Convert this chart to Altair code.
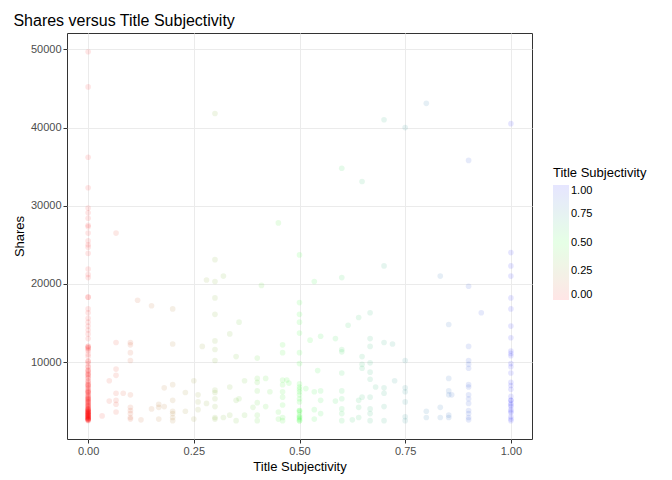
import altair as alt
import pandas as pd

# shares observed at each title subjectivity value
s000 = [49700, 45200, 36200, 32300, 29700, 29100, 28400, 27500, 27300, 26500, 25500,
        25000, 24700, 23900, 21900, 21200, 20800, 18300, 18300, 16800, 16300, 15600,
        15100, 14600, 14100, 13600, 13000, 12000, 11800, 11400, 10700, 10100, 9400,
        8800, 8400, 7900, 7500, 7100, 6600, 6200, 5800, 5300, 4900, 4500, 4000, 3600,
        3200, 2700, 2500, 3000, 3400, 3800, 4200, 4700, 5100, 5500, 6000, 2600, 2800,
        3100, 3300, 3500, 3700, 3900, 4100, 4400, 4600, 5000, 5600, 6400, 6900, 7300,
        8000, 8600, 9000, 9800, 11000, 11600, 2900, 2650, 2550, 2750, 2850, 2950, 3050,
        3150, 3250, 3350, 3450, 3550, 3650, 3750, 3850, 3950, 4300, 4800, 5200, 5400,
        5700, 6100, 6300, 6700, 7000, 7600, 8200, 8900, 2600, 2700, 2800, 3000, 3200,
        3400, 3600, 4000, 4400, 4900, 5300, 6200, 7100, 8400, 9400, 10100, 11800, 12000]
s010 = [12500, 12200, 11200, 10200, 5800, 4200, 3800, 3400, 2900, 2700]
s020 = [16800, 12300, 7100, 5100, 3700, 3400, 2900, 2500]
s030 = [41800, 23100, 20300, 18200, 16100, 12700, 11600, 10200, 6400, 6100, 5300,
        4300, 2900, 2700]
s040 = [10500, 7900, 7400, 6300, 4800, 3200, 2500]
s046 = [12200, 11200, 7700, 7100, 6200, 5500, 4500, 2900, 2500]
s050 = [23700, 17600, 16100, 15100, 13700, 11200, 9800, 7200, 6800, 6500, 6200, 5800,
        5300, 4900, 3800, 3600, 3200, 2900, 2500, 3800, 2500, 2700, 3000]
s060 = [34800, 20800, 11600, 11300, 8600, 6300, 5300, 4000, 3400, 2500]
s067 = [16300, 13000, 12000, 9900, 8700, 7800, 5500, 4000, 3400, 2500]
s070 = [41000, 22300, 12500, 6700, 6000, 4300, 2500]
s075 = [40000, 10200, 6700, 6200, 4900, 3000, 2500]
s090 = [35800, 19700, 12000, 10200, 9700, 9200, 7100, 6800, 5800, 5300, 4700, 3800,
        3400, 2900, 2600]
s100 = [40500, 24000, 22300, 21000, 18200, 16800, 14600, 13100, 11400, 11100, 10800,
        9800, 9400, 8600, 7400, 7000, 6500, 5600, 5100, 5100, 4700, 4300, 3900, 3500,
        3000, 2700, 2500, 4500, 3700]
# scattered single points between the main values
other_x = [0.066, 0.066, 0.066, 0.066, 0.066, 0.066, 0.066, 0.066, 0.05, 0.05, 0.083,
           0.033, 0.117, 0.15, 0.15, 0.125, 0.167, 0.167, 0.167, 0.18, 0.18, 0.23, 0.23,
           0.25, 0.25, 0.26, 0.26, 0.26, 0.27, 0.28, 0.28, 0.32, 0.32, 0.335, 0.335,
           0.335, 0.35, 0.35, 0.35, 0.357, 0.357, 0.37, 0.37, 0.39, 0.41, 0.42, 0.42,
           0.43, 0.45, 0.45, 0.45, 0.47, 0.475, 0.515, 0.525, 0.535, 0.535, 0.535, 0.535,
           0.543, 0.55, 0.55, 0.55, 0.55, 0.585, 0.585, 0.615, 0.625, 0.64, 0.64, 0.64,
           0.64, 0.648, 0.648, 0.648, 0.648, 0.648, 0.68, 0.72, 0.725, 0.8, 0.8, 0.8,
           0.833, 0.833, 0.833, 0.853, 0.853, 0.853, 0.853, 0.853, 0.853, 0.86, 0.93]
other_y = [26500, 12500, 9100, 8300, 6000, 5100, 4600, 3600, 7600, 5000, 6000,
           3100, 17900, 17200, 4000, 2600, 4600, 4200, 2700, 6700, 4300, 6100, 3700,
           7600, 2700, 5800, 4900, 3900, 12000, 20500, 4700, 21000, 2900, 13600, 6800,
           3200, 10700, 5100, 2500, 15100, 5300, 7600, 3200, 4200, 19800, 7900, 4300,
           6200, 27800, 3600, 2700, 7700, 7300, 6600, 12800, 20300, 6200, 3900, 2700,
           8900, 3400, 13300, 6300, 5100, 13000, 5000, 14700, 2600, 15700, 5100, 4200,
           2900, 33100, 10700, 9700, 9200, 5500, 6800, 12300, 7600, 43100, 3700, 2900,
           21000, 4200, 2900, 14800, 7900, 6300, 5800, 3200, 2900, 5800, 16300]

groups = [(0.0, s000), (0.1, s010), (0.2, s020), (0.3, s030), (0.4, s040),
          (0.46, s046), (0.5, s050), (0.6, s060), (0.667, s067), (0.7, s070),
          (0.75, s075), (0.9, s090), (1.0, s100)]
xs, ys = [], []
for gx, gy in groups:
    xs += [gx] * len(gy)
    ys += gy
xs += other_x
ys += other_y
df = pd.DataFrame({"subj": xs, "shares": ys})

chart = (
    alt.Chart(df)
    .mark_circle(size=32)
    .encode(
        x=alt.X("subj:Q", title="Title Subjectivity",
                scale=alt.Scale(domain=[-0.05, 1.05], nice=False, zero=False),
                axis=alt.Axis(values=[0, 0.25, 0.5, 0.75, 1.0], format=".2f")),
        y=alt.Y("shares:Q", title="Shares",
                scale=alt.Scale(domain=[150, 52100], nice=False, zero=False),
                axis=alt.Axis(values=[10000, 20000, 30000, 40000, 50000], format="d")),
        color=alt.Color("subj:Q", title="Title Subjectivity",
                        scale=alt.Scale(domain=[0, 1], range=["#ff0000", "#00ff00", "#0000ff"],
                                        interpolate="rgb"),
                        legend=alt.Legend(values=[0, 0.25, 0.5, 0.75, 1.0], format=".2f",
                                          orient="none", legendX=486, legendY=134,
                                          gradientLength=115, gradientThickness=16,
                                          gradientStrokeWidth=0, titleFontWeight="normal",
                                          titleFontSize=13, labelFontSize=11,
                                          titleColor="black", labelColor="black")),
        opacity=alt.value(0.1),
    )
    .properties(width=465, height=406,
                title=alt.TitleParams("Shares versus Title Subjectivity", anchor="start",
                                      fontSize=16, fontWeight="normal"))
    .configure(font="Liberation Sans")
    .configure_view(stroke="#333333", strokeWidth=1)
    .configure_axis(grid=True, gridColor="#ebebeb", domain=False, tickColor="#333333",
                    tickSize=4, labelColor="#4d4d4d", labelFontSize=11,
                    titleFontSize=13, titleFontWeight="normal", titleColor="black")
)

chart.save("out.html", embed_options={"renderer": "svg", "actions": False})
